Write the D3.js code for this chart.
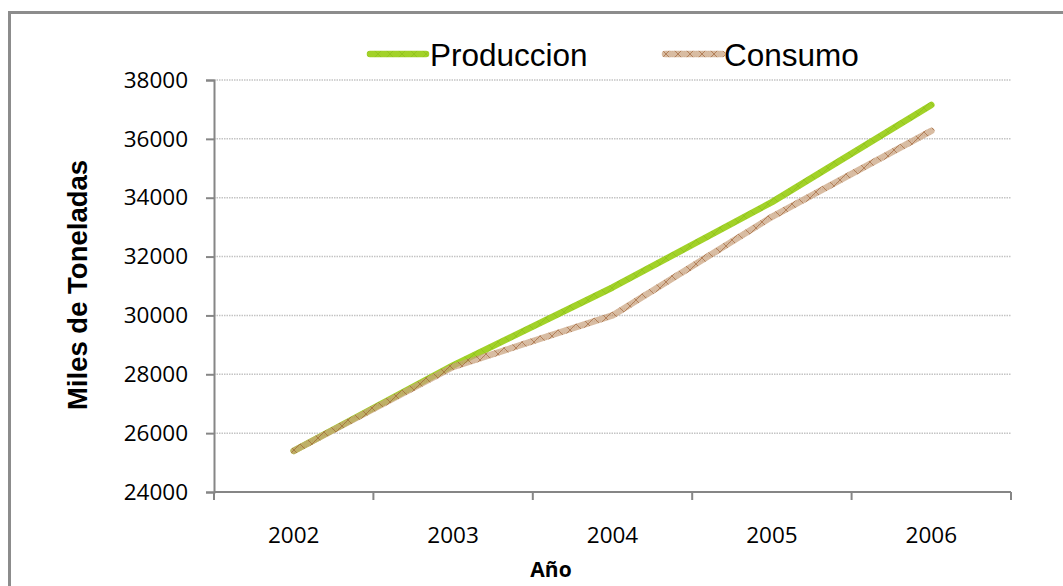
<!DOCTYPE html>
<html>
<head>
<meta charset="utf-8">
<script src="https://cdn.jsdelivr.net/npm/d3@7"></script>
<style>
  html, body { margin: 0; padding: 0; background: #ffffff; }
  svg { display: block; }
</style>
</head>
<body>
<svg id="chart" width="1063" height="586"></svg>
<script>
// Annual production vs consumption, thousands of tonnes
const years = ["2002", "2003", "2004", "2005", "2006"];
const produccion = [25400, 28300, 30950, 33850, 37150];
const consumo = [25400, 28250, 30000, 33350, 36270];
const yTicks = [24000, 26000, 28000, 30000, 32000, 34000, 36000, 38000];
const seriesNames = ["Produccion", "Consumo"];

const svg = d3.select("#chart");
const plotLeft = 214, plotRight = 1011, plotTop = 80, plotBottom = 492;

// Outer chart frame
svg.append("rect")
  .attr("x", 9.5).attr("y", 12.5)
  .attr("width", 1080).attr("height", 600)
  .attr("fill", "#ffffff")
  .attr("stroke", "#8c8c8c").attr("stroke-width", 3);

// Textured strokes for the two series
const defs = svg.append("defs");
function hatch(id, base, baseOpacity, line, lineOpacity) {
  const p = defs.append("pattern")
    .attr("id", id).attr("patternUnits", "userSpaceOnUse")
    .attr("width", 12).attr("height", 12);
  p.append("rect").attr("width", 12).attr("height", 12)
    .attr("fill", base).attr("fill-opacity", baseOpacity);
  p.append("path").attr("d", "M0,12 L12,0 M0,0 L12,12")
    .attr("stroke", line).attr("stroke-width", 0.8).attr("opacity", lineOpacity);
  p.append("path").attr("d", "M0,3 H12 M0,9 H12")
    .attr("stroke", line).attr("stroke-width", 0.5).attr("opacity", lineOpacity * 0.5)
    .attr("stroke-dasharray", "1,1");
}
hatch("hatchProd", "#a2d228", 1, "#86b814", 0.6);
hatch("hatchCons", "#c9a37e", 0.72, "#98592a", 0.75);

const x = d3.scaleBand().domain(years).range([plotLeft, plotRight]);
const y = d3.scaleLinear().domain([24000, 38000]).range([plotBottom, plotTop]);

// Horizontal dotted gridlines
svg.append("g")
  .selectAll("line")
  .data(yTicks.filter(t => t > 24000))
  .join("line")
  .attr("x1", plotLeft).attr("x2", plotRight)
  .attr("y1", d => y(d)).attr("y2", d => y(d))
  .attr("stroke", "#c4c4c4").attr("stroke-width", 1.5)
  .attr("stroke-dasharray", "1.5,1");

// Y axis
const yAxis = svg.append("g")
  .attr("transform", `translate(${plotLeft},0)`)
  .call(d3.axisLeft(y).tickValues(yTicks).tickFormat(d3.format("d")).tickSizeOuter(0).tickSize(8).tickPadding(18));
yAxis.select(".domain").attr("stroke", "#868686").attr("stroke-width", 2);
yAxis.selectAll(".tick line").attr("stroke", "#868686").attr("stroke-width", 2);
yAxis.selectAll(".tick text")
  .attr("font-family", "'Open Sans', sans-serif").attr("font-size", 22.5)
  .attr("fill", "#000");

// X axis with ticks between categories
const xAxisG = svg.append("g").attr("transform", `translate(0,${plotBottom})`);
xAxisG.append("line")
  .attr("x1", plotLeft).attr("x2", plotRight).attr("y1", 0).attr("y2", 0)
  .attr("stroke", "#868686").attr("stroke-width", 2);
const bounds = years.map(d => x(d)).concat([plotRight]);
xAxisG.selectAll("line.tk")
  .data(bounds).join("line").attr("class", "tk")
  .attr("x1", d => d).attr("x2", d => d).attr("y1", 0).attr("y2", 8)
  .attr("stroke", "#868686").attr("stroke-width", 2);
xAxisG.selectAll("text")
  .data(years).join("text")
  .attr("x", d => x(d) + x.bandwidth() / 2).attr("y", 51)
  .attr("text-anchor", "middle")
  .attr("font-family", "'Open Sans', sans-serif").attr("font-size", 22.5)
  .attr("fill", "#000").text(d => d);

// Axis titles
svg.append("text")
  .attr("transform", "translate(87,285) rotate(-90)")
  .attr("text-anchor", "middle")
  .attr("font-family", "'Liberation Sans', Arial, sans-serif")
  .attr("font-weight", "bold").attr("font-size", 27.5)
  .attr("fill", "#000").text("Miles de Toneladas");
svg.append("text")
  .attr("x", 551).attr("y", 577)
  .attr("text-anchor", "middle")
  .attr("font-family", "'Open Sans', sans-serif")
  .attr("font-weight", "bold").attr("font-size", 21)
  .attr("fill", "#000").text("Año");

// Series lines
const line = d3.line()
  .x((d, i) => x(years[i]) + x.bandwidth() / 2)
  .y(d => y(d));
const series = [
  { name: seriesNames[0], values: produccion, paint: "url(#hatchProd)" },
  { name: seriesNames[1], values: consumo, paint: "url(#hatchCons)" }
];
svg.append("g").selectAll("path")
  .data(series).join("path")
  .attr("d", d => line(d.values))
  .attr("fill", "none")
  .attr("stroke", d => d.paint)
  .attr("stroke-width", 6.5)
  .attr("stroke-linecap", "round")
  .attr("stroke-linejoin", "round");

// Legend
const legendPos = [{ x0: 370, x1: 426, tx: 430 }, { x0: 665, x1: 722, tx: 724 }];
const legend = svg.append("g");
series.forEach((s, i) => {
  const p = legendPos[i];
  legend.append("line")
    .attr("x1", p.x0).attr("x2", p.x1).attr("y1", 54).attr("y2", 54)
    .attr("stroke", s.paint).attr("stroke-width", 6.5)
    .attr("stroke-linecap", "round");
  legend.append("text")
    .attr("x", p.tx).attr("y", 66)
    .attr("font-family", "'Liberation Sans', Arial, sans-serif")
    .attr("font-size", 31.5).attr("fill", "#000")
    .text(s.name);
});
</script>
</body>
</html>
